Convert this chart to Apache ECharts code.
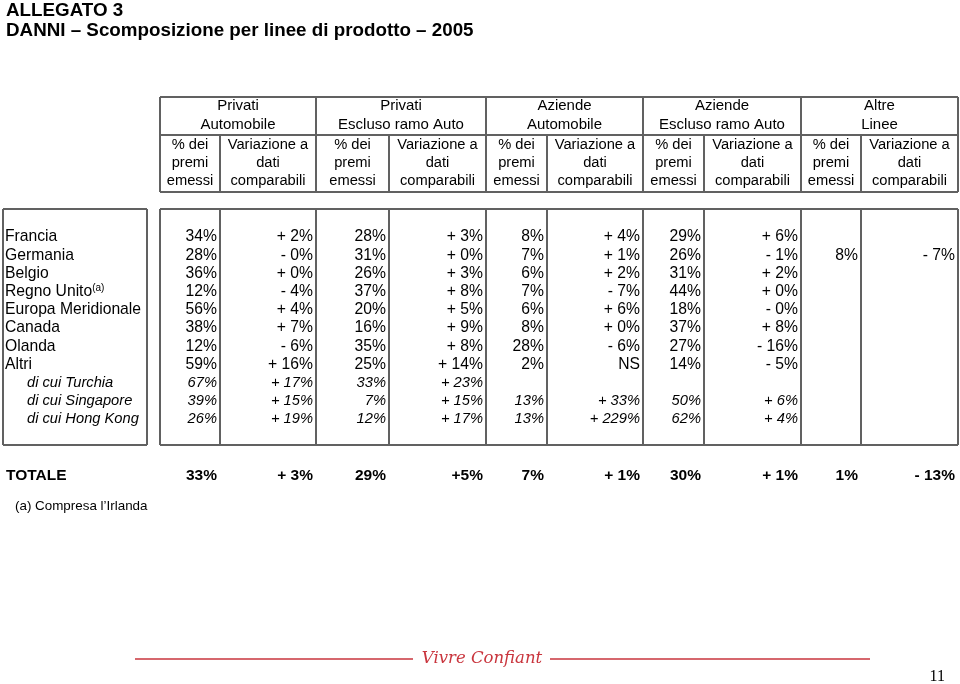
<!DOCTYPE html>
<html><head><meta charset="utf-8">
<script src="https://cdn.jsdelivr.net/npm/echarts@6/dist/echarts.min.js"></script>
<style>html,body{margin:0;padding:0;background:#fff}#c{width:960px;height:684px}</style>
</head><body><div id="c"></div>
<script>
// ---------- DATA ----------
const titleLine1 = 'ALLEGATO 3';
const titleLine2 = 'DANNI – Scomposizione per linee di prodotto – 2005';
const groupTitles = [['Privati','Automobile'],['Privati','Escluso ramo Auto'],['Aziende','Automobile'],['Aziende','Escluso ramo Auto'],['Altre','Linee']];
const subPct = ['% dei','premi','emessi'];
const subVar = ['Variazione a','dati','comparabili'];
const rowLabels = ['Francia','Germania','Belgio','Regno Unito','Europa Meridionale','Canada','Olanda','Altri','di cui Turchia','di cui Singapore','di cui Hong Kong'];
const italicRows = ['di cui Turchia','di cui Singapore','di cui Hong Kong'];
const footnoteRow = 'Regno Unito';
const privAutoPct  = ['34%','28%','36%','12%','56%','38%','12%','59%','67%','39%','26%'];
const privAutoVar  = ['+ 2%','- 0%','+ 0%','- 4%','+ 4%','+ 7%','- 6%','+ 16%','+ 17%','+ 15%','+ 19%'];
const privOtherPct = ['28%','31%','26%','37%','20%','16%','35%','25%','33%','7%','12%'];
const privOtherVar = ['+ 3%','+ 0%','+ 3%','+ 8%','+ 5%','+ 9%','+ 8%','+ 14%','+ 23%','+ 15%','+ 17%'];
const azAutoPct    = ['8%','7%','6%','7%','6%','8%','28%','2%','','13%','13%'];
const azAutoVar    = ['+ 4%','+ 1%','+ 2%','- 7%','+ 6%','+ 0%','- 6%','NS','','+ 33%','+ 229%'];
const azOtherPct   = ['29%','26%','31%','44%','18%','37%','27%','14%','','50%','62%'];
const azOtherVar   = ['+ 6%','- 1%','+ 2%','+ 0%','- 0%','+ 8%','- 16%','- 5%','','+ 6%','+ 4%'];
const altrePct     = ['','8%','','','','','','','','',''];
const altreVar     = ['','- 7%','','','','','','','','',''];
const totalLabel = 'TOTALE';
const totals = ['33%','+ 3%','29%','+5%','7%','+ 1%','30%','+ 1%','1%','- 13%'];
const footnote = '(a) Compresa l’Irlanda';
const brandText = 'Vivre Confiant';
const pageNumber = '11';

// ---------- LAYOUT ----------
const colEdges = [160, 220, 316, 389, 486, 547, 643, 704, 801, 861, 958]; // x of column borders
const FONT = 'Liberation Sans, Arial, sans-serif';
const LINE = '#616161';
const columns = [privAutoPct, privAutoVar, privOtherPct, privOtherVar, azAutoPct, azAutoVar, azOtherPct, azOtherVar, altrePct, altreVar];

// cells for custom series: [x, rowIndex]
const bodyCells = [];
const bodyMeta = [];
rowLabels.forEach((lab, r) => {
  const it = italicRows.includes(lab);
  bodyCells.push([it ? 27 : 5, r]);
  bodyMeta.push({text: lab, align: 'left', italic: it, sup: lab === footnoteRow});
  columns.forEach((col, c) => {
    if (col[r] === '') return;
    bodyCells.push([colEdges[c + 1] - 3, r]);
    bodyMeta.push({text: col[r], align: 'right', italic: it});
  });
});
const totCells = [[6, 0]];
const totMeta = [{text: totalLabel, align: 'left'}];
totals.forEach((v, c) => { totCells.push([colEdges[c + 1] - 3, 0]); totMeta.push({text: v, align: 'right'}); });

function bodyRender(params, api) {
  const m = bodyMeta[params.dataIndex];
  const p = api.coord([api.value(0), api.value(1)]);
  const font = (m.italic ? 'italic 14.7px ' : '15.7px ') + FONT;
  const style = {x: p[0], y: p[1], align: m.align, verticalAlign: 'middle', fill: '#000', font: font, text: m.text};
  if (m.sup) {
    style.text = '{n|' + m.text + '}{s|(a)}';
    style.rich = {n: {font: '15.7px ' + FONT, fill: '#000'}, s: {font: '10px ' + FONT, fill: '#000', verticalAlign: 'top', padding: [0, 0, 7, 0]}};
  }
  return {type: 'text', style: style};
}
function totRender(params, api) {
  const m = totMeta[params.dataIndex];
  const p = api.coord([api.value(0), api.value(1)]);
  return {type: 'text', style: {x: p[0], y: p[1], align: m.align, verticalAlign: 'middle', fill: '#000', font: 'bold 15.5px ' + FONT, text: m.text}};
}

// ---------- GRAPHIC (table frame & headers) ----------
const g = [];
const ln = (x1, y1, x2, y2) => g.push({type: 'line', shape: {x1, y1, x2, y2}, style: {stroke: LINE, lineWidth: 2}, silent: true});
const tx = (x, y, text, font, align, fill) => g.push({type: 'text', x, y, style: {text, font, align: align || 'center', verticalAlign: 'middle', fill: fill || '#000'}, silent: true});
// header frame
const hT = 97, hM = 135, hB = 192;
ln(colEdges[0], hT, colEdges[10], hT); ln(colEdges[0], hM, colEdges[10], hM); ln(colEdges[0], hB, colEdges[10], hB);
colEdges.forEach((x, i) => { if (i % 2 === 0) ln(x, hT, x, hB); else ln(x, hM, x, hB); });
groupTitles.forEach((gt, i) => {
  const cx = (colEdges[2 * i] + colEdges[2 * i + 2]) / 2;
  tx(cx, 106, gt[0], '15px ' + FONT); tx(cx, 125, gt[1], '15px ' + FONT);
  const c1 = (colEdges[2 * i] + colEdges[2 * i + 1]) / 2, c2 = (colEdges[2 * i + 1] + colEdges[2 * i + 2]) / 2;
  subPct.forEach((s, k) => tx(c1, 145 + 18 * k, s, '14.7px ' + FONT));
  subVar.forEach((s, k) => tx(c2, 145 + 18 * k, s, '14.7px ' + FONT));
});
// body frame
const bT = 209, bB = 445;
ln(3, bT, 147, bT); ln(3, bB, 147, bB); ln(3, bT, 3, bB); ln(147, bT, 147, bB);
ln(colEdges[0], bT, colEdges[10], bT); ln(colEdges[0], bB, colEdges[10], bB);
colEdges.forEach(x => ln(x, bT, x, bB));
// titles
tx(6, 11, titleLine1, 'bold 18.8px ' + FONT, 'left');
tx(6, 31, titleLine2, 'bold 18.8px ' + FONT, 'left');
tx(15, 506, footnote, '13.4px ' + FONT, 'left');
// brand footer
g.push({type: 'line', shape: {x1: 135, y1: 659, x2: 413, y2: 659}, style: {stroke: '#c9353d', lineWidth: 1.5}, silent: true});
g.push({type: 'line', shape: {x1: 550, y1: 659, x2: 870, y2: 659}, style: {stroke: '#c9353d', lineWidth: 1.5}, silent: true});
tx(482, 659, brandText, 'italic 16.5px DejaVu Serif, serif', 'center', '#c9353d');
tx(945, 677, pageNumber, '16px Liberation Serif, serif', 'right');

const chart = echarts.init(document.getElementById('c'), null, {renderer: 'canvas'});
chart.setOption({
  animation: false,
  backgroundColor: '#fff',
  grid: [
    {left: 0, right: 0, top: 228, height: 200},
    {left: 0, right: 0, top: 466, height: 20}
  ],
  xAxis: [
    {type: 'value', min: 0, max: 960, show: false, gridIndex: 0},
    {type: 'value', min: 0, max: 960, show: false, gridIndex: 1}
  ],
  yAxis: [
    {type: 'category', data: rowLabels, inverse: true, show: false, gridIndex: 0},
    {type: 'category', data: [totalLabel], show: false, gridIndex: 1}
  ],
  graphic: g,
  series: [
    {type: 'custom', xAxisIndex: 0, yAxisIndex: 0, data: bodyCells, renderItem: bodyRender, silent: true, clip: false},
    {type: 'custom', xAxisIndex: 1, yAxisIndex: 1, data: totCells, renderItem: totRender, silent: true, clip: false}
  ]
});
</script></body></html>
